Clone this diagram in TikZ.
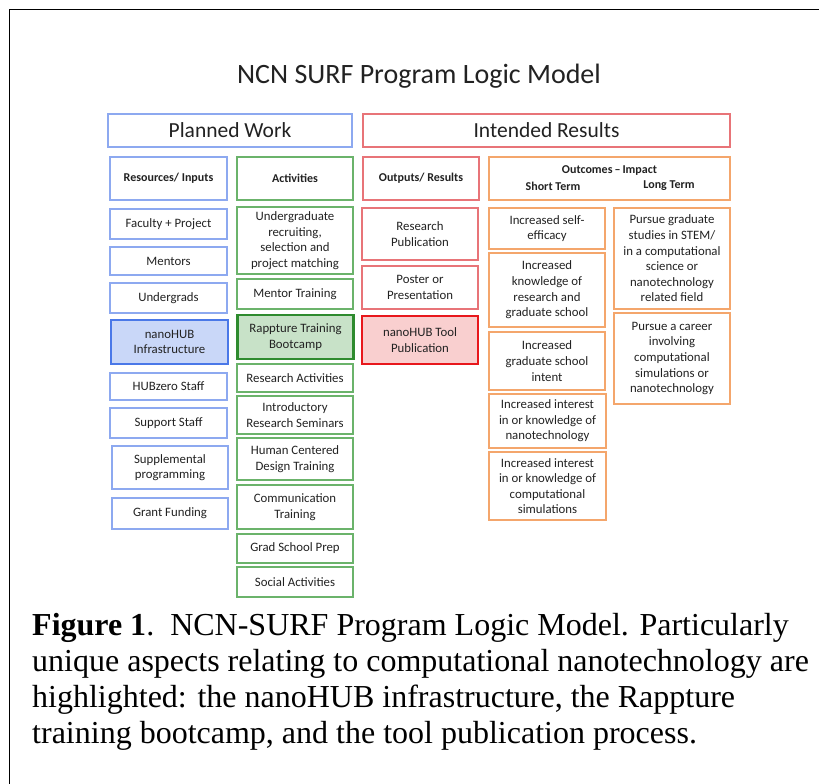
\documentclass[tikz,border=0pt]{standalone}
\usepackage{fontspec}
\setmainfont{Liberation Serif}
\newfontfamily\calib{Carlito}
\definecolor{resblue}{HTML}{8DA9F0}
\definecolor{hiblue}{HTML}{4A78E8}
\definecolor{hibluefill}{HTML}{C9D7F8}
\definecolor{actgreen}{HTML}{6BB36B}
\definecolor{higreen}{HTML}{2E8B2E}
\definecolor{higreenfill}{HTML}{C8E2C8}
\definecolor{outred}{HTML}{E87478}
\definecolor{hired}{HTML}{E8171C}
\definecolor{hiredfill}{HTML}{F9CFCF}
\definecolor{impact}{HTML}{F4A66C}
\definecolor{ink}{HTML}{222222}
\begin{document}
\begin{tikzpicture}[x=1pt,y=-1pt,
  cell/.style={draw, line width=1.1pt, inner sep=0pt, align=center, text=ink,
    font=\calib\fontsize{12.8}{15.6}\selectfont},
  head/.style={cell, font=\calib\bfseries\fontsize{12}{15}\selectfont},
  band/.style={cell, font=\calib\fontsize{21.5}{24}\selectfont},
  resbox/.style={cell, draw=resblue, minimum width=117pt},
  actbox/.style={cell, draw=actgreen, minimum width=116pt},
  outbox/.style={cell, draw=outred, minimum width=116pt},
  impbox/.style={cell, draw=impact, minimum width=116pt},
  capline/.style={anchor=base west, inner sep=0pt, font=\fontsize{32}{36}\selectfont},
  wh/.style={minimum height=#1}
]
\clip (0,0) rectangle (819,784);
\useasboundingbox (0,0) rectangle (819,784);
\fill[white] (0,0) rectangle (819,784);

% outer frame, running off the page at right and bottom
\draw[line width=1.4pt] (9.5,800) -- (9.5,9.5) -- (830,9.5);

% title
\node[font=\calib\fontsize{28}{32}\selectfont, text=ink] (title) at (419,76) {NCN SURF Program Logic Model};

% bands
\node[band, draw=resblue, minimum width=244pt, wh=33pt] (pw) at (230,130.5) {Planned Work};
\node[band, draw=outred, minimum width=367pt, wh=33pt] (ir) at (546.5,130.5) {Intended Results};

% column heads
\node[head, draw=resblue, minimum width=117pt, wh=43pt] (hres) at (168.5,178.5) {Resources/ Inputs};
\node[head, draw=actgreen, minimum width=116pt, wh=43pt] (hact) at (295,178.5) {Activities};
\node[head, draw=outred, minimum width=116pt, wh=43pt] (hout) at (421,178.5) {Outputs/ Results};
\node[head, draw=impact, minimum width=241pt, wh=43pt] (himp) at (609.5,178.5) {};
\node[font=\calib\bfseries\fontsize{12}{15}\selectfont, text=ink, inner sep=0pt] (oi) at (609.5,171) {Outcomes\,–\,Impact};
\node[font=\calib\bfseries\fontsize{12}{15}\selectfont, text=ink, inner sep=0pt] (st) at (553,186) {Short Term};
\node[font=\calib\bfseries\fontsize{12}{15}\selectfont, text=ink, inner sep=0pt] (lt) at (669,186) {Long Term};

% resources / inputs
\node[resbox, wh=30pt] (fac) at (168.5,224) {Faculty + Project};
\node[resbox, wh=28pt] (men) at (168.5,261) {Mentors};
\node[resbox, wh=30pt] (ugr) at (168.5,298) {Undergrads};
\node[resbox, draw=hiblue, fill=hibluefill, line width=2.4pt, wh=44pt] (nano) at (169.5,342) {nanoHUB\\Infrastructure};
\node[resbox, wh=27pt] (hubz) at (168.5,386.5) {HUBzero Staff};
\node[resbox, wh=30pt] (sup) at (168.5,423) {Support Staff};
\node[resbox, minimum width=116pt, wh=43pt] (supp) at (170,467.5) {Supplemental\\programming};
\node[resbox, minimum width=116pt, wh=31pt] (grant) at (170,513.5) {Grant Funding};

% activities
\node[actbox, wh=67pt] (recr) at (295,240.5) {Undergraduate\\recruiting,\\selection and\\project matching};
\node[actbox, wh=30pt] (mtr) at (295,294) {Mentor Training};
\node[actbox, draw=higreen, fill=higreenfill, line width=2.4pt, wh=44pt] (rap) at (295.5,337) {Rappture Training\\Bootcamp};
\node[actbox, wh=28pt] (ract) at (295,378) {Research Activities};
\node[actbox, wh=38pt] (irs) at (295,415) {Introductory\\Research Seminars};
\node[actbox, wh=42pt] (hcd) at (295,459) {Human Centered\\Design Training};
\node[actbox, wh=44pt] (comm) at (295,507) {Communication\\Training};
\node[actbox, wh=29pt] (gsp) at (295,548.5) {Grad School Prep};
\node[actbox, wh=30pt] (soc) at (295,582) {Social Activities};

% outputs / results
\node[outbox, wh=52pt] (rpub) at (420,234) {Research\\Publication};
\node[outbox, wh=43pt] (post) at (420,287.5) {Poster or\\Presentation};
\node[outbox, draw=hired, fill=hiredfill, line width=2.4pt, wh=48pt] (tool) at (420,340) {nanoHUB Tool\\Publication};

% short-term outcomes
\node[impbox, wh=41pt] (self) at (547,228.5) {Increased self-\\efficacy};
\node[impbox, wh=74pt] (know) at (547,290) {Increased\\knowledge of\\research and\\graduate school};
\node[impbox, wh=58pt] (intent) at (547,361) {Increased\\graduate school\\intent};
\node[impbox, minimum width=117pt, wh=54pt] (nanot) at (547.5,421) {Increased interest\\in or knowledge of\\nanotechnology};
\node[impbox, minimum width=117pt, wh=68pt] (csim) at (547.5,486) {Increased interest\\in or knowledge of\\computational\\simulations};

% long-term outcomes
\node[impbox, wh=101pt] (grad) at (672,258.5) {Pursue graduate\\studies in STEM/\\in a computational\\science or\\nanotechnology\\related field};
\node[impbox, wh=91pt] (career) at (672,358.5) {Pursue a career\\involving\\computational\\simulations or\\nanotechnology};

% caption
\node[capline] (cap1) at (32,635) {\textbf{Figure 1}.\ \ NCN-SURF Program Logic Model. Particularly};
\node[capline] (cap2) at (32,671.5) {unique aspects relating to computational nanotechnology are};
\node[capline] (cap3) at (32,707.5) {highlighted: the nanoHUB infrastructure, the Rappture};
\node[capline] (cap4) at (32,743.5) {training bootcamp, and the tool publication process.};
\end{tikzpicture}
\end{document}
